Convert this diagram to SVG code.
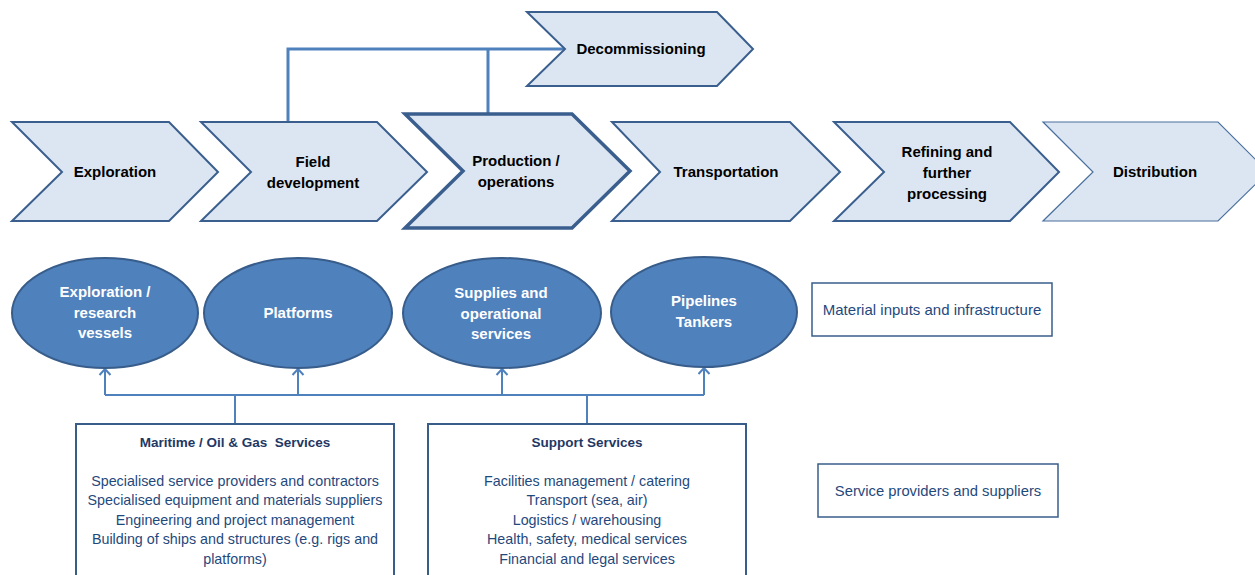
<svg xmlns="http://www.w3.org/2000/svg" width="1255" height="575" viewBox="0 0 1255 575">
<defs>
<style>
.chev{fill:#DCE6F2;stroke:#3A5F8E;stroke-width:2;stroke-linejoin:miter}
.chev-main{fill:#DCE6F2;stroke:#3A5F8E;stroke-width:3.5;stroke-linejoin:miter}
.clabel{font-family:"Liberation Sans",Arial,sans-serif;font-size:15px;font-weight:bold;fill:#000;text-anchor:middle}
.ell{fill:#4F81BD;stroke:#385D8A;stroke-width:2}
.elabel{font-family:"Liberation Sans",Arial,sans-serif;font-size:15px;font-weight:bold;fill:#fff;text-anchor:middle}
.box{fill:#fff;stroke:#385D8A;stroke-width:1.5}
.boxthick{fill:#fff;stroke:#385D8A;stroke-width:2}
.btitle{font-family:"Liberation Sans",Arial,sans-serif;font-size:13.5px;font-weight:bold;fill:#1F3864;text-anchor:middle}
.btext{font-family:"Liberation Sans",Arial,sans-serif;font-size:14.3px;fill:#1F497D;text-anchor:middle}
.conn{fill:none;stroke:#4F81BD;stroke-width:3}
.arr{fill:none;stroke:#4F81BD;stroke-width:2}
</style>
<marker id="open" markerWidth="14" markerHeight="14" refX="12" refY="7" orient="auto" markerUnits="userSpaceOnUse" viewBox="0 0 14 14">
<path d="M6,1.5 L12,7 L6,12.5" fill="none" stroke="#4F81BD" stroke-width="2"/>
</marker>
</defs>
<g id="connectors">
<path class="conn" d="M288,122 V49 H565"/>
<path class="conn" d="M488,49 V114"/>
<path class="arr" d="M105,395 H704"/>
<path class="arr" d="M105,395 V369" marker-end="url(#open)"/>
<path class="arr" d="M298,395 V369" marker-end="url(#open)"/>
<path class="arr" d="M502,395 V369" marker-end="url(#open)"/>
<path class="arr" d="M704,395 V368" marker-end="url(#open)"/>
<path class="arr" d="M235,395 V424"/>
<path class="arr" d="M587,395 V424"/>
</g>
<g id="decommissioning">
<polygon class="chev" points="527,12 717,12 753,49 717,86 527,86 565,49"/>
<text class="clabel" x="641" y="54">Decommissioning</text>
</g>
<g id="exploration">
<polygon class="chev" points="12,122 169,122 218,172 169,221 12,221 62,172"/>
<text class="clabel" x="115" y="177">Exploration</text>
</g>
<g id="field-development">
<polygon class="chev" points="201,122 377,122 427,172 377,221 201,221 251,172"/>
<text class="clabel" x="313" y="167">Field</text>
<text class="clabel" x="313" y="188">development</text>
</g>
<g id="production">
<polygon class="chev-main" points="405,114 572,114 630,171 572,228 405,228 463,171"/>
<text class="clabel" x="516" y="166">Production /</text>
<text class="clabel" x="516" y="187">operations</text>
</g>
<g id="transportation">
<polygon class="chev" points="612,122 790,122 840,172 790,221 612,221 660,172"/>
<text class="clabel" x="726" y="177">Transportation</text>
</g>
<g id="refining">
<polygon class="chev" points="834,122 1010,122 1059,172 1010,221 834,221 884,172"/>
<text class="clabel" x="947" y="157">Refining and</text>
<text class="clabel" x="947" y="178">further</text>
<text class="clabel" x="947" y="199">processing</text>
</g>
<g id="distribution">
<polygon class="chev" style="stroke-width:1.2;stroke:#4A6F9E" points="1043,122 1218,122 1268,172 1218,221 1043,221 1093,172"/>
<text class="clabel" x="1155" y="177">Distribution</text>
</g>
<g id="vessels">
<ellipse class="ell" cx="105" cy="313" rx="93" ry="55"/>
<text class="elabel" x="105" y="297">Exploration /</text>
<text class="elabel" x="105" y="318">research</text>
<text class="elabel" x="105" y="338">vessels</text>
</g>
<g id="platforms">
<ellipse class="ell" cx="298" cy="313" rx="94" ry="55"/>
<text class="elabel" x="298" y="318">Platforms</text>
</g>
<g id="supplies">
<ellipse class="ell" cx="502" cy="313" rx="99" ry="55"/>
<text class="elabel" x="501" y="298">Supplies and</text>
<text class="elabel" x="501" y="319">operational</text>
<text class="elabel" x="501" y="339">services</text>
</g>
<g id="pipelines">
<ellipse class="ell" cx="704" cy="312" rx="93" ry="55"/>
<text class="elabel" x="704" y="306">Pipelines</text>
<text class="elabel" x="704" y="327">Tankers</text>
</g>
<g id="material-inputs">
<rect class="box" x="812" y="283" width="240" height="53"/>
<text class="btext" x="932" y="315" style="font-size:15px">Material inputs and infrastructure</text>
</g>
<g id="service-providers">
<rect class="box" x="818" y="464" width="240" height="53"/>
<text class="btext" x="938" y="496" style="font-size:14.8px">Service providers and suppliers</text>
</g>
<g id="maritime">
<rect class="boxthick" x="76" y="424" width="318" height="160"/>
<text class="btitle" x="235" y="447" xml:space="preserve">Maritime / Oil &amp; Gas  Services</text>
<text class="btext" x="235" y="486">Specialised service providers and contractors</text>
<text class="btext" x="235" y="505">Specialised equipment and materials suppliers</text>
<text class="btext" x="235" y="525">Engineering and project management</text>
<text class="btext" x="235" y="544">Building of ships and structures (e.g. rigs and</text>
<text class="btext" x="235" y="564">platforms)</text>
</g>
<g id="support">
<rect class="boxthick" x="428" y="424" width="318" height="160"/>
<text class="btitle" x="587" y="447">Support Services</text>
<text class="btext" x="587" y="486">Facilities management / catering</text>
<text class="btext" x="587" y="505">Transport (sea, air)</text>
<text class="btext" x="587" y="525">Logistics / warehousing</text>
<text class="btext" x="587" y="544">Health, safety, medical services</text>
<text class="btext" x="587" y="564">Financial and legal services</text>
</g>
</svg>
